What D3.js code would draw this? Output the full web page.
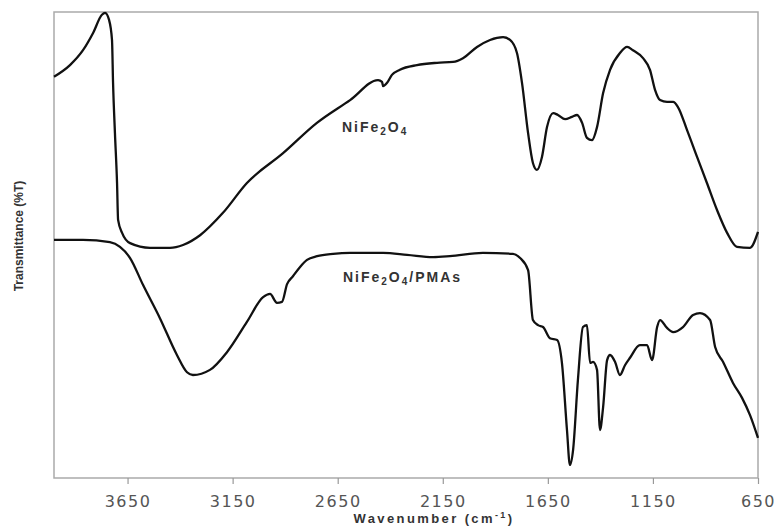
<!DOCTYPE html>
<html>
<head>
<meta charset="utf-8">
<script src="https://cdn.jsdelivr.net/npm/d3@7"></script>
<style>
    body { margin: 0; background: #fff; }
    svg { display: block; font-family: "Liberation Sans", Arial, sans-serif; }
    .frame { fill: none; stroke: #aaa; stroke-width: 1.5; }
    .axis path { display: none; }
    .axis line { stroke: #999; stroke-width: 1.2; }
    .axis text { fill: #555; font-family: "DejaVu Sans", sans-serif; font-size: 16px; letter-spacing: 1.5px; }
    .spectrum { fill: none; stroke: #111; stroke-width: 2.3; stroke-linejoin: round; }
    .tag { fill: #333; font-size: 14px; font-weight: bold; letter-spacing: 2px; }
</style>
</head>
<body>
<svg width="779" height="526"></svg>
<script>
// IR spectra, wavenumber in cm-1 and transmittance in arbitrary %T
var ferriteWn = [4000, 3924, 3862, 3814, 3772, 3757, 3738, 3724, 3719, 3710, 3700, 3695,
    3676, 3638, 3543, 3448, 3386, 3305, 3196, 3082, 2910, 2749, 2591, 2458, 2439, 2434,
    2415, 2392, 2354, 2273, 2177, 2101, 2054, 1987, 1925, 1863, 1830, 1797, 1773, 1744,
    1721, 1702, 1678, 1654, 1625, 1602, 1568, 1535, 1511, 1487, 1464, 1440, 1416, 1387,
    1354, 1307, 1273, 1245, 1197, 1164, 1140, 1116, 1083, 1054, 1031, 988, 940, 893,
    845, 797, 750, 688, 650];
var ferriteT = [86.1, 88.6, 91.8, 95.5, 99.4, 99.8, 98.3, 94.0, 84.8, 74.0, 63.3, 55.4,
    52.6, 50.4, 49.4, 49.4, 50.0, 52.1, 56.9, 63.3, 69.7, 76.2, 81.1, 85.4, 85.0, 84.1,
    84.8, 86.5, 87.6, 88.6, 89.1, 89.3, 90.1, 92.5, 94.0, 94.6, 94.0, 91.2, 84.8, 74.0,
    67.6, 66.1, 68.9, 75.3, 78.3, 77.9, 77.0, 77.5, 77.9, 76.2, 73.0, 72.5, 75.3, 82.6,
    87.6, 91.2, 92.5, 91.8, 90.1, 87.6, 83.3, 81.1, 80.7, 80.7, 79.6, 74.7, 68.9, 63.3,
    57.5, 52.6, 49.6, 49.4, 52.8];

var pmasWn = [4000, 3862, 3734, 3686, 3638, 3576, 3496, 3415, 3367, 3339, 3258, 3177,
    3082, 3005, 2972, 2939, 2915, 2891, 2863, 2829, 2796, 2748, 2672, 2591, 2434, 2320,
    2196, 2116, 1959, 1816, 1782, 1744, 1721, 1697, 1673, 1640, 1606, 1583, 1559, 1545,
    1530, 1507, 1483, 1464, 1449, 1435, 1416, 1402, 1387, 1368, 1354, 1330, 1307, 1283,
    1259, 1212, 1178, 1154, 1130, 1116, 1083, 1054, 1007, 959, 926, 878, 854, 816, 769,
    726, 688, 650];
var pmasT = [51.1, 51.1, 50.6, 49.6, 47.2, 41.4, 34.3, 26.4, 22.7, 22.1, 23.2, 27.0,
    33.5, 38.8, 39.5, 37.6, 37.8, 41.6, 43.3, 45.3, 46.8, 47.6, 48.1, 48.3, 48.3, 47.9,
    47.4, 47.6, 48.3, 48.1, 47.2, 44.6, 33.9, 32.8, 32.4, 30.0, 29.6, 24.7, 10.3, 2.8,
    6.0, 21.0, 32.4, 32.8, 24.7, 24.9, 23.2, 10.3, 15.2, 25.3, 26.4, 24.9, 22.1, 24.2,
    25.8, 28.5, 28.5, 25.3, 32.4, 33.9, 32.2, 31.3, 32.4, 35.0, 35.4, 33.9, 28.1, 24.9,
    20.4, 17.2, 13.5, 8.6];

var xTicks = [3650, 3150, 2650, 2150, 1650, 1150, 650];

var svg = d3.select("svg");
var margin = {
        top : 12,
        right : 21,
        bottom : 48,
        left : 54
    },
    width = +svg.attr("width") - margin.left - margin.right,
    height = +svg.attr("height") - margin.top - margin.bottom;

var x = d3.scaleLinear().domain([ 4000, 650 ]).range([ 0, width ]),
    y = d3.scaleLinear().domain([ 0, 100 ]).range([ height, 0 ]);

var g = svg.append("g")
    .attr("transform", "translate(" + margin.left + "," + margin.top + ")");

g.append("rect")
    .attr("class", "frame")
    .attr("width", width)
    .attr("height", height);

g.append("g")
    .attr("class", "axis axis--x")
    .attr("transform", "translate(0," + height + ")")
    .call(d3.axisBottom(x).tickValues(xTicks).tickSize(6).tickPadding(12).tickFormat(d3.format("d")));

var line = d3.line()
    .x(function(d) { return x(d[0]); })
    .y(function(d) { return y(d[1]); })
    .curve(d3.curveMonotoneX);

[ [ ferriteWn, ferriteT ], [ pmasWn, pmasT ] ].forEach(function(s) {
    g.append("path")
        .attr("class", "spectrum")
        .attr("d", line(d3.zip(s[0], s[1])));
});

function tag(wn, t, suffix) {
    var txt = g.append("text")
        .attr("class", "tag")
        .attr("x", x(wn))
        .attr("y", y(t));
    txt.append("tspan").text("NiFe");
    txt.append("tspan").attr("font-size", "10px").attr("dy", 3).text("2");
    txt.append("tspan").attr("dy", -3).text("O");
    txt.append("tspan").attr("font-size", "10px").attr("dy", 3).text("4");
    if (suffix) txt.append("tspan").attr("dy", -3).text(suffix);
}
tag(2630, 74.2);
tag(2625, 42.0, "/PMAs");

svg.append("text")
    .attr("transform", "translate(23,236) rotate(-90)")
    .attr("text-anchor", "middle")
    .attr("fill", "#333")
    .attr("font-size", "12px")
    .attr("font-weight", "bold")
    .text("Transmittance (%T)");

var title = svg.append("text")
    .attr("x", 434)
    .attr("y", 523)
    .attr("text-anchor", "middle")
    .attr("fill", "#333")
    .attr("font-size", "13px")
    .attr("font-weight", "bold")
    .attr("letter-spacing", "2.4px")
    .text("Wavenumber (cm");
title.append("tspan").attr("font-size", "9px").attr("dy", -5).text("-1");
title.append("tspan").attr("dy", 5).text(")");
</script>
</body>
</html>
